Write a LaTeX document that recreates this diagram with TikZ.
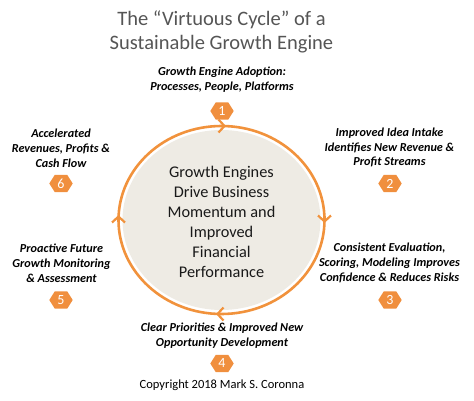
\documentclass[tikz,border=0pt]{standalone}
\usepackage{fontspec}
\setmainfont{Carlito}
\usetikzlibrary{arrows.meta,backgrounds}
\definecolor{ringorange}{RGB}{241,146,60}
\definecolor{hexorange}{RGB}{240,143,62}
\definecolor{discbeige}{RGB}{238,235,228}
\definecolor{titlegray}{RGB}{85,85,85}
\tikzset{
  lbl/.style={align=center, inner sep=0pt, font=\fontsize{12.2}{14.8}\selectfont\bfseries\itshape, text=black},
  hexnum/.style={inner sep=0pt, minimum width=23pt, minimum height=17pt, text=white, font=\fontsize{14}{14}\selectfont},
  ring/.style={draw=ringorange, line width=2.6pt},
  ringarrow/.style={ringorange, line width=2.2pt, -{Straight Barb[length=6pt,width=13pt]}}
}
\begin{document}
\begin{tikzpicture}[x=1pt,y=1pt]
\useasboundingbox (0,0) rectangle (474,400);
% title
\node[align=center, inner sep=0pt, text=titlegray, font=\fontsize{20.5}{24}\selectfont] (title) at (221.5,368) {The “Virtuous Cycle” of a\\Sustainable Growth Engine};
% disc and ring
\fill[discbeige] (221.5,180) ellipse[x radius=99pt, y radius=90pt];
\draw[ring] (221.5,180) ellipse[x radius=103pt, y radius=94pt];
\coordinate (atop) at (226,274);
\coordinate (aright) at (324.5,177);
\coordinate (abot) at (216,86);
\coordinate (aleft) at (118.5,185);
\draw[ringarrow] ([xshift=-7pt]atop) -- (atop);
\draw[ringarrow] ([yshift=7pt]aright) -- (aright);
\draw[ringarrow] ([xshift=7pt]abot) -- (abot);
\draw[ringarrow] ([yshift=-7pt]aleft) -- (aleft);
% center text
\node[align=center, inner sep=0pt, text=black!90, font=\fontsize{16.3}{20}\selectfont] (centre) at (221.5,178.5) {Growth Engines\\Drive Business\\Momentum and\\Improved\\Financial\\Performance};
% labels
\node[lbl] (l1) at (222,320.5) {Growth Engine Adoption:\\Processes, People, Platforms};
\node[lbl] (l2) at (389.5,252.5) {Improved Idea Intake\\Identifies New Revenue \&\\Profit Streams};
\node[lbl] (l3) at (389.5,137) {Consistent Evaluation,\\Scoring, Modeling Improves\\Confidence \& Reduces Risks};
\node[lbl] (l4) at (222,64) {Clear Priorities \& Improved New\\Opportunity Development};
\node[lbl] (l5) at (61.5,137) {Proactive Future\\Growth Monitoring\\\& Assessment};
\node[lbl] (l6) at (61,252) {Accelerated\\Revenues, Profits \&\\Cash Flow};
% hexagons
\node[hexnum] (h1) at (222,289) {1};
\node[hexnum] (h2) at (390,216.5) {2};
\node[hexnum] (h3) at (390,100) {3};
\node[hexnum] (h4) at (222,36.5) {4};
\node[hexnum] (h5) at (61,100) {5};
\node[hexnum] (h6) at (61,216.5) {6};
\begin{pgfonlayer}{background}
\foreach \h in {h1,h2,h3,h4,h5,h6}
  \fill[hexorange] (\h.west) -- ([xshift=5.5pt]\h.north west) -- ([xshift=-5.5pt]\h.north east) -- (\h.east) -- ([xshift=-5.5pt]\h.south east) -- ([xshift=5.5pt]\h.south west) -- cycle;
\end{pgfonlayer}
% copyright
\node[inner sep=0pt, font=\fontsize{12.5}{14}\selectfont, text=black] (copy) at (222,15) {Copyright 2018 Mark S. Coronna};
\end{tikzpicture}
\end{document}
